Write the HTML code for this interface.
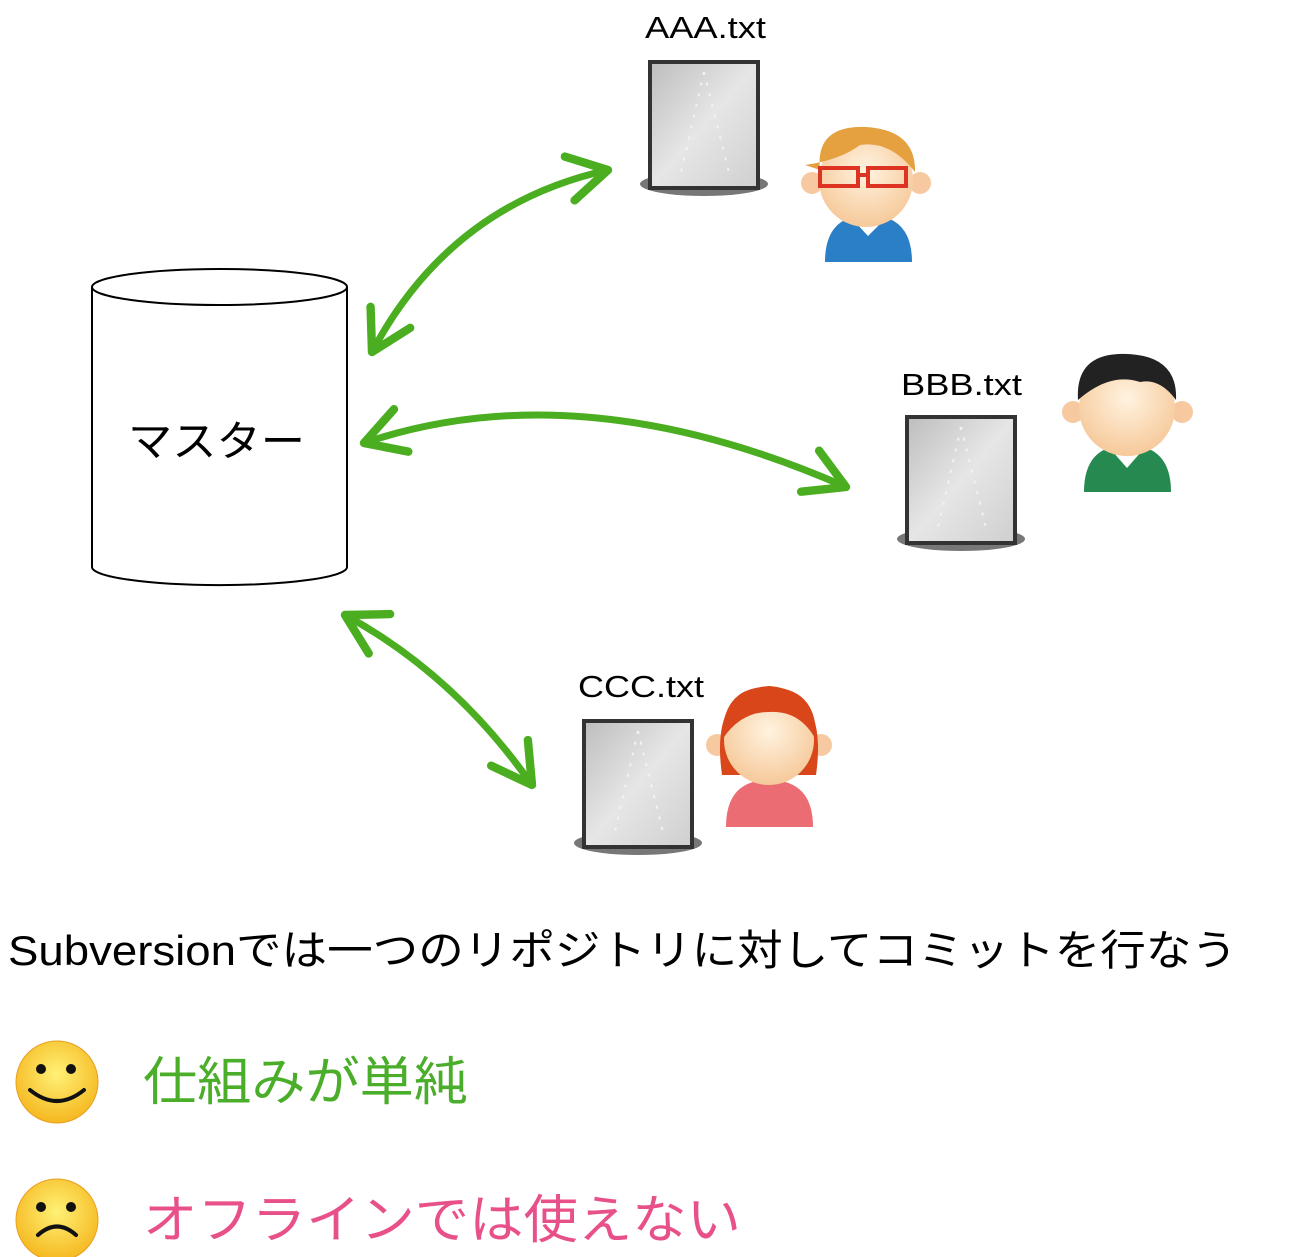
<!DOCTYPE html>
<html><head><meta charset="utf-8"><style>
html,body{margin:0;padding:0;background:#fff;}
svg{display:block}
text{font-family:"Liberation Sans","Noto Sans CJK JP",sans-serif;}
</style></head><body>
<svg width="1300" height="1257" viewBox="0 0 1300 1257" xmlns="http://www.w3.org/2000/svg">
<defs>
<marker id="ah" viewBox="0 0 20 20" refX="16" refY="10" markerWidth="8" markerHeight="8" markerUnits="strokeWidth" orient="auto-start-reverse">
<polyline points="2,2 16,10 2,18" fill="none" stroke="#4aae20" stroke-width="3" stroke-linecap="round" stroke-linejoin="round"/>
</marker>
<linearGradient id="doc" x1="0" y1="0" x2="1" y2="1"><stop offset="0" stop-color="#bdbdbd"/><stop offset="0.5" stop-color="#e6e6e6"/><stop offset="1" stop-color="#cfcfcf"/></linearGradient>
<radialGradient id="face" cx="0.5" cy="0.4" r="0.6"><stop offset="0" stop-color="#fff3e0"/><stop offset="1" stop-color="#f6c99a"/></radialGradient>
<radialGradient id="smile" cx="0.5" cy="0.4" r="0.6"><stop offset="0" stop-color="#fff176"/><stop offset="1" stop-color="#f5b820"/></radialGradient>
<g id="docu">
<ellipse cx="54" cy="122" rx="64" ry="12" fill="#777"/>
<rect x="0" y="0" width="108" height="126" fill="url(#doc)" stroke="#333" stroke-width="4"/>
<path d="M54 10 L30 115 M54 10 L80 115" stroke="#f2f2f2" stroke-width="2" stroke-dasharray="3,8" fill="none"/>
</g>
</defs>
<path d="M92 287 L92 567 A127 18 0 0 0 347 567 L347 287" fill="#fff" stroke="#000" stroke-width="2"/>
<ellipse cx="219.5" cy="287" rx="127.5" ry="18" fill="#fff" stroke="#000" stroke-width="2"/>
<text x="128" y="456" font-size="42" textLength="177" lengthAdjust="spacingAndGlyphs">マスター</text>
<g fill="none" stroke="#4aae20" stroke-width="7" stroke-linecap="round">
<path d="M372 352 Q450 205 608 170" marker-start="url(#ah)" marker-end="url(#ah)"/>
<path d="M364 443 Q580 370 846 487" marker-start="url(#ah)" marker-end="url(#ah)"/>
<path d="M345 615 Q455 675 532 785" marker-start="url(#ah)" marker-end="url(#ah)"/>
</g>
<use href="#docu" x="650" y="62"/>
<use href="#docu" x="907" y="417"/>
<use href="#docu" x="584" y="721"/>
<text x="645" y="38" font-size="31" textLength="121" lengthAdjust="spacingAndGlyphs">AAA.txt</text>
<text x="901" y="395" font-size="31" textLength="121" lengthAdjust="spacingAndGlyphs">BBB.txt</text>
<text x="578" y="697" font-size="31" textLength="126" lengthAdjust="spacingAndGlyphs">CCC.txt</text>
<g>
<path d="M825 262 Q825 215 868 215 Q912 215 912 262 Z" fill="#2a7fc6"/>
<path d="M855 222 L868 236 L882 222 Z" fill="#fff"/>
<circle cx="812" cy="183" r="11" fill="#f7c9a0"/><circle cx="920" cy="183" r="11" fill="#f7c9a0"/>
<circle cx="866" cy="180" r="47" fill="url(#face)"/>
<path d="M820 170 Q815 125 866 127 Q916 130 915 172 Q890 140 860 145 Q840 160 805 165 Z" fill="#e5a040"/>
<rect x="820" y="168" width="38" height="18" fill="none" stroke="#d32" stroke-width="4"/>
<rect x="868" y="168" width="38" height="18" fill="none" stroke="#d32" stroke-width="4"/>
<line x1="858" y1="175" x2="868" y2="175" stroke="#d32" stroke-width="4"/>
</g>
<g>
<path d="M1084 492 Q1084 445 1127 445 Q1171 445 1171 492 Z" fill="#268a50"/>
<path d="M1113 452 L1127 468 L1141 452 Z" fill="#fff"/>
<circle cx="1073" cy="412" r="11" fill="#f7c9a0"/><circle cx="1182" cy="412" r="11" fill="#f7c9a0"/>
<circle cx="1127" cy="408" r="48" fill="url(#face)"/>
<path d="M1078 400 Q1075 352 1127 354 Q1178 356 1176 400 Q1160 378 1140 382 Q1110 372 1078 400 Z" fill="#222"/>
</g>
<g>
<path d="M726 827 Q726 780 769 780 Q813 780 813 827 Z" fill="#ec6c74"/>
<circle cx="717" cy="745" r="11" fill="#f7c9a0"/><circle cx="821" cy="745" r="11" fill="#f7c9a0"/>
<path d="M722 775 Q710 690 769 686 Q828 690 816 775 Z" fill="#d8461a"/>
<circle cx="769" cy="740" r="45" fill="url(#face)"/>
<path d="M722 740 Q722 686 769 687 Q818 688 816 740 Q800 710 769 712 Q740 712 722 740 Z" fill="#d8461a"/>
</g>
<text x="8" y="965" font-size="42" textLength="1229" lengthAdjust="spacingAndGlyphs">Subversionでは一つのリポジトリに対してコミットを行なう</text>
<circle cx="57" cy="1082" r="41" fill="url(#smile)" stroke="#e8a020" stroke-width="1"/>
<circle cx="41" cy="1069" r="5" fill="#111"/><circle cx="71" cy="1069" r="5" fill="#111"/>
<path d="M30 1090 Q57 1112 84 1090" fill="none" stroke="#111" stroke-width="4" stroke-linecap="round"/>
<circle cx="57" cy="1220" r="41" fill="url(#smile)" stroke="#e8a020" stroke-width="1"/>
<circle cx="41" cy="1207" r="5" fill="#111"/><circle cx="71" cy="1207" r="5" fill="#111"/>
<path d="M38 1235 Q57 1218 76 1235" fill="none" stroke="#111" stroke-width="4" stroke-linecap="round"/>
<text x="143" y="1100" font-size="52" fill="#4aae2a" textLength="325" lengthAdjust="spacingAndGlyphs">仕組みが単純</text>
<text x="143" y="1238" font-size="52" fill="#e8508a" textLength="598" lengthAdjust="spacingAndGlyphs">オフラインでは使えない</text>
</svg>
</body></html>
